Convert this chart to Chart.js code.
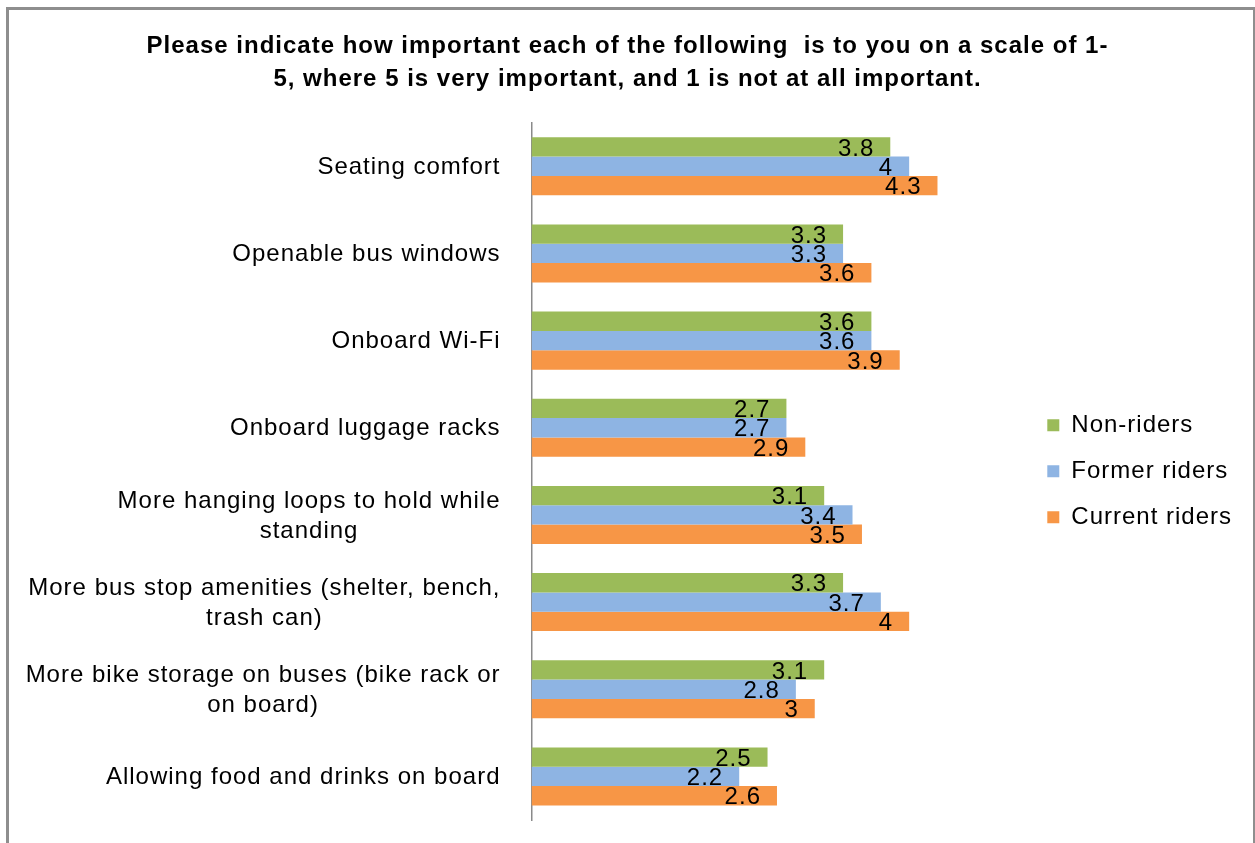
<!DOCTYPE html>
<html>
<head>
<meta charset="utf-8">
<title>Bus amenities importance</title>
<script src="https://cdn.jsdelivr.net/npm/chart.js@4/dist/chart.umd.min.js"></script>
<style>
  html, body { margin: 0; padding: 0; background: #fff; overflow: hidden; }
  #frame {
    position: absolute; left: 6px; top: 7px; width: 1250px; height: 900px;
    box-sizing: border-box; border: 3px solid #8e8e8e;
  }
  #wrap { position: absolute; left: 0; top: 0; width: 1255px; height: 843px; }
</style>
</head>
<body>
<div id="frame"></div>
<div id="wrap"><canvas id="chart" width="1255" height="843"></canvas></div>
<script>
// ---- data ----
const titleLines = [
  'Please indicate how important each of the following  is to you on a scale of 1-',
  '5, where 5 is very important, and 1 is not at all important.'
];
const categories = [
  ['Seating comfort'],
  ['Openable bus windows'],
  ['Onboard Wi-Fi'],
  ['Onboard luggage racks'],
  ['More hanging loops to hold while', 'standing'],
  ['More bus stop amenities (shelter, bench,', 'trash can)'],
  ['More bike storage on buses (bike rack or', 'on board)'],
  ['Allowing food and drinks on board']
];
const seriesNames = ['Non-riders', 'Former riders', 'Current riders'];
const nonRiders     = [3.8, 3.3, 3.6, 2.7, 3.1, 3.3, 3.1, 2.5];
const formerRiders  = [4.0, 3.3, 3.6, 2.7, 3.4, 3.7, 2.8, 2.2];
const currentRiders = [4.3, 3.6, 3.9, 2.9, 3.5, 4.0, 3.0, 2.6];
const axisMax = 5.23;

const FONT = '"Liberation Sans", Arial, sans-serif';
Chart.defaults.font.family = FONT;
Chart.defaults.color = '#000';

// Slightly tracked-out text everywhere on the canvas
const textSpacing = {
  id: 'textSpacing',
  beforeUpdate(chart) { chart.ctx.letterSpacing = '1px'; },
  beforeDraw(chart) { chart.ctx.letterSpacing = '1px'; }
};

// Category names: block right-aligned next to the axis, wrapped lines centred on each other
const categoryLabels = {
  id: 'categoryLabels',
  afterDraw(chart) {
    const { ctx } = chart;
    const y = chart.scales.y;
    ctx.save();
    ctx.letterSpacing = '1px';
    ctx.font = '24px ' + FONT;
    ctx.fillStyle = '#000';
    ctx.textAlign = 'center';
    ctx.textBaseline = 'middle';
    const rightEdge = y.right - 31;
    categories.forEach((lines, i) => {
      const yc = y.getPixelForTick(i) + 1;
      const w = Math.max(...lines.map(l => ctx.measureText(l).width));
      const cx = rightEdge - w / 2;
      lines.forEach((line, k) => {
        ctx.fillText(line, cx, yc + (k - (lines.length - 1) / 2) * 30);
      });
    });
    ctx.restore();
  }
};

// Value labels just inside the end of each bar
const valueLabels = {
  id: 'valueLabels',
  afterDatasetsDraw(chart) {
    const { ctx } = chart;
    ctx.save();
    ctx.letterSpacing = '1px';
    ctx.font = '24px ' + FONT;
    ctx.fillStyle = '#000';
    ctx.textAlign = 'right';
    ctx.textBaseline = 'middle';
    chart.data.datasets.forEach((ds, di) => {
      chart.getDatasetMeta(di).data.forEach((bar, i) => {
        ctx.fillText(String(ds.data[i]), bar.x - 16, bar.y + 2);
      });
    });
    ctx.restore();
  }
};

new Chart(document.getElementById('chart'), {
  type: 'bar',
  data: {
    labels: categories,
    datasets: [
      { label: seriesNames[0], data: nonRiders,     backgroundColor: '#9BBB59' },
      { label: seriesNames[1], data: formerRiders,  backgroundColor: '#8EB4E3' },
      { label: seriesNames[2], data: currentRiders, backgroundColor: '#F79646' }
    ]
  },
  options: {
    indexAxis: 'y',
    responsive: false,
    animation: false,
    datasets: { bar: { barPercentage: 1, categoryPercentage: 0.666, borderWidth: 0 } },
    layout: { padding: { left: 13, right: 13, top: 0, bottom: 23 } },
    scales: {
      x: { display: false, min: 0, max: axisMax },
      y: {
        grid: { display: false, drawTicks: false },
        border: { display: true, color: '#8a8a8a', width: 1.5 },
        ticks: { display: false },
        afterFit(scale) { scale.width = 518.5; }
      }
    },
    plugins: {
      title: {
        display: true,
        text: titleLines,
        color: '#000',
        font: { size: 24, weight: 'bold', lineHeight: 1.375 },
        padding: { top: 30, bottom: 26.7 }
      },
      legend: {
        position: 'right',
        align: 'center',
        fullSize: false,
        labels: {
          boxWidth: 12,
          boxHeight: 12,
          padding: 22,
          color: '#000',
          font: { size: 24 }
        }
      },
      tooltip: { enabled: false }
    }
  },
  plugins: [textSpacing, categoryLabels, valueLabels]
});
</script>
</body>
</html>
